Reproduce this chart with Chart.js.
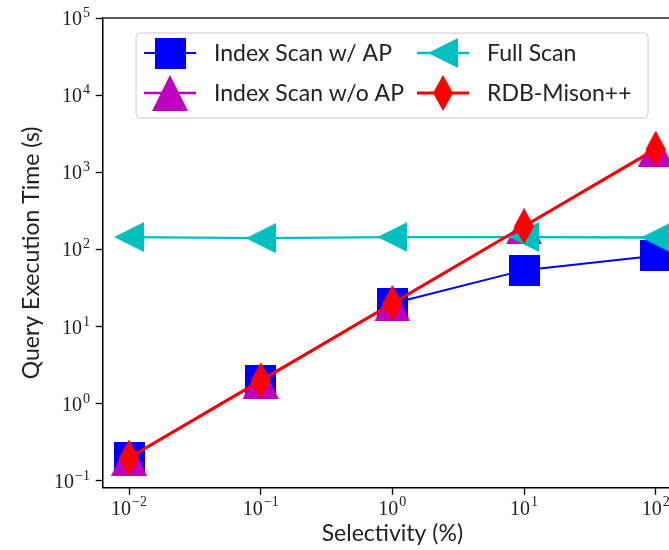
<!DOCTYPE html>
<html>
<head>
<meta charset="utf-8">
<title>Query execution time vs selectivity</title>
<script src="https://cdn.jsdelivr.net/npm/chart.js@4.4.1/dist/chart.umd.min.js"></script>
<style>
  html, body { margin: 0; padding: 0; background: #fff; }
  body { width: 669px; height: 550px; overflow: hidden; }
  #wrap { width: 700px; height: 550px; }
</style>
</head>
<body>
<div id="wrap"><canvas id="timeChart" width="700" height="550"></canvas></div>
<script>
// selectivity (%) on x, query time (s) on y
const selectivity = [0.01, 0.1, 1, 10, 100];
const indexScanAP = [0.2, 2, 20, 54, 83];
const indexScanNoAP = [0.2, 2, 20, 200, 2000];
const fullScan = [145, 140, 145, 145, 143];
const rdbMison = [0.2, 2, 20, 200, 2000];

const xTicks = [0.01, 0.1, 1, 10, 100];
const xTickExps = ['\u22122', '\u22121', '0', '1', '2'];
const yTicks = [0.1, 1, 10, 100, 1000, 10000, 100000];
const yTickExps = ['\u22121', '0', '1', '2', '3', '4', '5'];

const TEXT = '#222';
const SANS = 'Lato, "Liberation Sans", sans-serif';
const SERIF = '"Liberation Serif", "DejaVu Serif", serif';

// marker shapes as small canvases so the legend and the plot share them
function makeMarker(w, h, color, path) {
    const c = document.createElement('canvas');
    c.width = w;
    c.height = h;
    const g = c.getContext('2d');
    g.fillStyle = color;
    g.beginPath();
    path(g, w, h);
    g.closePath();
    g.fill();
    return c;
}

const squareMarker = makeMarker(31, 31, '#0000ff', (g, w, h) => g.rect(0, 0, w, h));
const triUpMarker = makeMarker(36, 36, '#bf00bf', (g, w, h) => {
    g.moveTo(w / 2, 0); g.lineTo(w, h); g.lineTo(0, h);
});
const triLeftMarker = makeMarker(30, 30, '#00bfbf', (g, w, h) => {
    g.moveTo(0, h / 2); g.lineTo(w, 0); g.lineTo(w, h);
});
const diamondMarker = makeMarker(20, 36, '#ff0000', (g, w, h) => {
    g.moveTo(w / 2, 0); g.lineTo(w, h / 2); g.lineTo(w / 2, h); g.lineTo(0, h / 2);
});

const toPoints = vals => selectivity.map((s, i) => ({ x: s, y: vals[i] }));

function series(label, vals, color, width, marker, order) {
    return {
        label: label,
        data: toPoints(vals),
        borderColor: color,
        backgroundColor: color,
        borderWidth: width,
        pointStyle: marker,
        pointRadius: 15,
        pointHoverRadius: 15,
        fill: false,
        tension: 0,
        order: order
    };
}

// frame on top/right, like the other two spines
const framePlugin = {
    id: 'frame',
    afterDatasetsDraw(chart) {
        const { ctx, chartArea: a } = chart;
        ctx.save();
        ctx.strokeStyle = '#000';
        ctx.lineWidth = 1.3;
        ctx.strokeRect(a.left, a.top, a.right - a.left, a.bottom - a.top);
        ctx.restore();
    }
};

// 10^n tick labels and the axis titles
function drawPower(ctx, exp, x, baseY, raise, anchor) {
    ctx.font = '20px ' + SERIF;
    const wBase = ctx.measureText('10').width;
    ctx.font = '14px ' + SERIF;
    const wExp = ctx.measureText(exp).width;
    const total = wBase + 1 + wExp;
    const start = anchor === 'center' ? x - total / 2 : x - total;
    ctx.font = '20px ' + SERIF;
    ctx.fillText('10', start, baseY);
    ctx.font = '14px ' + SERIF;
    ctx.fillText(exp, start + wBase + 1, baseY - raise);
}

const labelPlugin = {
    id: 'axisText',
    afterDraw(chart) {
        const { ctx, chartArea: a } = chart;
        const xs = chart.scales.x;
        const ys = chart.scales.y;
        ctx.save();
        ctx.fillStyle = TEXT;
        ctx.textBaseline = 'alphabetic';
        ctx.textAlign = 'left';
        xTicks.forEach((v, i) => {
            drawPower(ctx, xTickExps[i], xs.getPixelForValue(v), 515, 9, 'center');
        });
        yTicks.forEach((v, i) => {
            drawPower(ctx, yTickExps[i], 90, ys.getPixelForValue(v) + 7, 8, 'right');
        });

        ctx.font = '23px ' + SANS;
        ctx.textAlign = 'center';
        ctx.fillText('Selectivity (%)', (a.left + a.right) / 2, 541);
        ctx.translate(39, (a.top + a.bottom) / 2);
        ctx.rotate(-Math.PI / 2);
        ctx.fillText('Query Execution Time (s)', 0, 0);
        ctx.restore();
    }
};

// two-column legend box inside the plot
const legendBox = { left: 136, top: 33, right: 648, bottom: 118 };
const legendRows = [53, 93];
const legendCols = [{ line: 144, text: 214 }, { line: 417, text: 487 }];
const handleLength = 52;

const legendPlugin = {
    id: 'boxLegend',
    afterDraw(chart) {
        const ctx = chart.ctx;
        const b = legendBox;
        ctx.save();
        ctx.beginPath();
        ctx.roundRect(b.left, b.top, b.right - b.left, b.bottom - b.top, 4);
        ctx.fillStyle = 'rgba(255,255,255,0.8)';
        ctx.fill();
        ctx.strokeStyle = '#cccccc';
        ctx.lineWidth = 1;
        ctx.stroke();

        chart.data.datasets.forEach((ds, i) => {
            const col = legendCols[Math.floor(i / 2)];
            const y = legendRows[i % 2];
            ctx.beginPath();
            ctx.strokeStyle = ds.borderColor;
            ctx.lineWidth = ds.borderWidth;
            ctx.moveTo(col.line, y);
            ctx.lineTo(col.line + handleLength, y);
            ctx.stroke();
            const m = ds.pointStyle;
            ctx.drawImage(m, col.line + handleLength / 2 - m.width / 2, y - m.height / 2);
            ctx.fillStyle = TEXT;
            ctx.font = '23px ' + SANS;
            ctx.textAlign = 'left';
            ctx.textBaseline = 'middle';
            ctx.fillText(ds.label, col.text, y + 1);
        });
        ctx.restore();
    }
};

const tickGrid = {
    display: true,
    drawOnChartArea: false,
    drawTicks: true,
    tickLength: 7,
    tickColor: '#000',
    tickWidth: 1.3
};

new Chart(document.getElementById('timeChart'), {
    type: 'line',
    data: {
        datasets: [
            series('Index Scan w/ AP', indexScanAP, '#0000ff', 2, squareMarker, 4),
            series('Index Scan w/o AP', indexScanNoAP, '#bf00bf', 2.5, triUpMarker, 3),
            series('Full Scan', fullScan, '#00bfbf', 2.3, triLeftMarker, 2),
            series('RDB-Mison++', rdbMison, '#ff0000', 3, diamondMarker, 1)
        ]
    },
    options: {
        responsive: false,
        animation: false,
        events: [],
        layout: { padding: { top: 16.7, right: 16.5, bottom: 0, left: 0 } },
        plugins: {
            legend: { display: false },
            tooltip: { enabled: false }
        },
        scales: {
            x: {
                type: 'logarithmic',
                min: Math.pow(10, -2.2),
                max: Math.pow(10, 2.2),
                grid: tickGrid,
                border: { display: true, color: '#000', width: 1.3 },
                ticks: { display: false },
                afterBuildTicks: scale => { scale.ticks = xTicks.map(v => ({ value: v })); },
                afterFit: scale => { scale.height = 62.3; }
            },
            y: {
                type: 'logarithmic',
                min: Math.pow(10, -1.087),
                max: 1e5,
                grid: tickGrid,
                border: { display: true, color: '#000', width: 1.3 },
                ticks: { display: false },
                afterBuildTicks: scale => { scale.ticks = yTicks.map(v => ({ value: v })); },
                afterFit: scale => { scale.width = 102.7; }
            }
        }
    },
    plugins: [framePlugin, labelPlugin, legendPlugin]
});
</script>
</body>
</html>
